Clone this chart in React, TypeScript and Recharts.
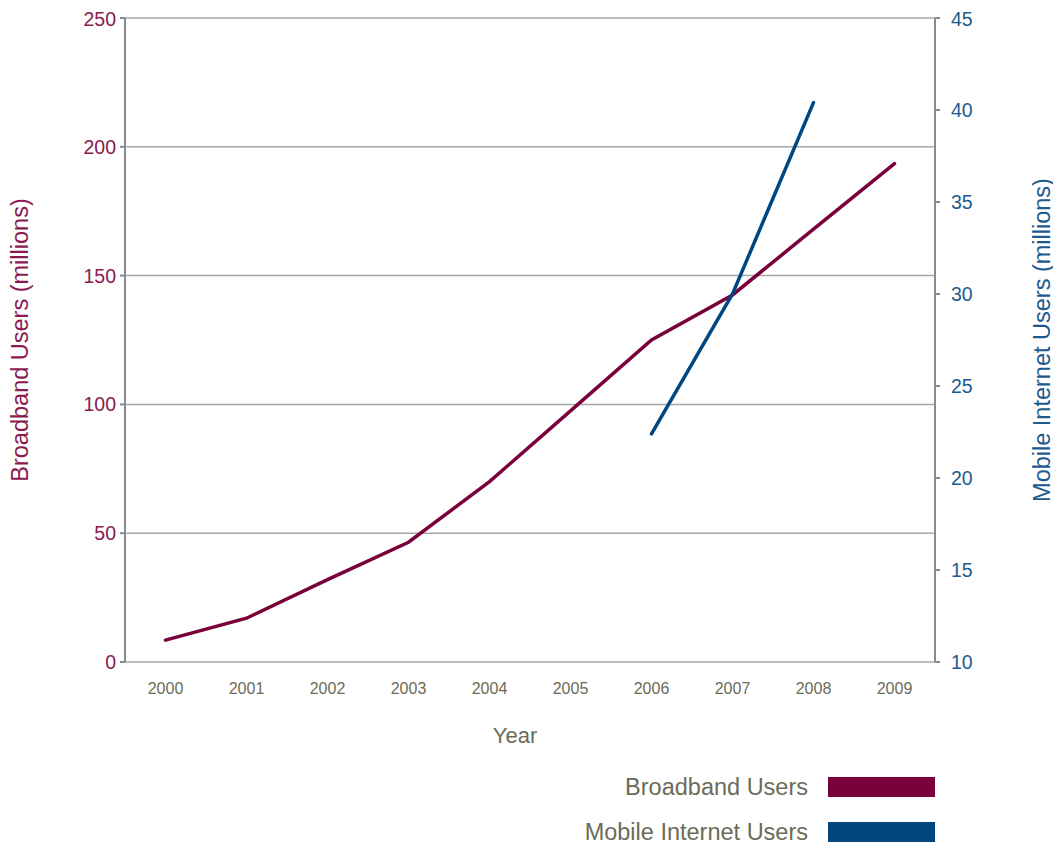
import { CartesianGrid, Legend, Line, LineChart, XAxis, YAxis } from "recharts";

const years = ["2000", "2001", "2002", "2003", "2004", "2005", "2006", "2007", "2008", "2009"];
const broadbandUsers = [8.5, 17, 32, 46.5, 70, 97.5, 125, 142.5, 168, 193.5];
const mobileUsers: (number | null)[] = [null, null, null, null, null, null, 22.4, 30, 40.4, null];
const leftTicks = [0, 50, 100, 150, 200, 250];
const rightTicks = [10, 15, 20, 25, 30, 35, 40, 45];

const MAROON = "#7a003c";
const BLUE = "#00467f";
const GRAY_TEXT = "#6b6b58";
const AXIS = "#8a8a8a";
const FONT = "'Liberation Sans', Arial, Helvetica, sans-serif";

const data = years.map((year, i) => ({
	i,
	year,
	broadband: broadbandUsers[i],
	mobile: mobileUsers[i],
}));

const labelTicks = years.map((_, i) => i);
const boundaryTicks = [...years.map((_, i) => i - 0.5), years.length - 0.5];

function LegendBox({ payload }: any) {
	const items = payload ?? [];
	return (
		<div style={{ height: 70, width: "100%", position: "relative", fontFamily: FONT }}>
			{items.map((item: any, idx: number) => (
				<div
					key={item.value}
					style={{
						position: "absolute",
						right: 126,
						top: idx === 0 ? 1 : 46,
						height: 20,
						display: "flex",
						alignItems: "center",
						gap: 20,
					}}
				>
					<span style={{ color: GRAY_TEXT, fontSize: 23.5, whiteSpace: "nowrap" }}>{item.value}</span>
					<span style={{ display: "inline-block", width: 107, height: 20, background: item.color }} />
				</div>
			))}
		</div>
	);
}

export default function App() {
	return (
		<div style={{ fontFamily: FONT }}>
			<LineChart
				width={1053}
				height={838}
				data={data}
				margin={{ top: 10, right: 0, left: 0, bottom: 0 }}
				accessibilityLayer={false}
				style={{ fontFamily: FONT }}
			>
				<CartesianGrid yAxisId="left" xAxisId="labels" vertical={false} stroke="#a8a8a8" strokeWidth={1.5} />
				<XAxis
					xAxisId="marks"
					dataKey="i"
					type="number"
					domain={[-0.5, years.length - 0.5]}
					ticks={boundaryTicks}
					tickFormatter={() => ""}
					height={0}
					tickSize={5}
					stroke={AXIS}
					strokeWidth={2}
					allowDataOverflow
				/>
				<XAxis
					xAxisId="labels"
					dataKey="i"
					type="number"
					domain={[-0.5, years.length - 0.5]}
					ticks={labelTicks}
					tickFormatter={(v: number) => years[v] ?? ""}
					tickLine={false}
					axisLine={false}
					height={114}
					tickSize={5}
					tickMargin={16}
					tick={{ fill: GRAY_TEXT, fontSize: 16 }}
					interval={0}
					allowDataOverflow
					label={{
						content: ({ viewBox }: any) => (
							<text
								x={viewBox.x + viewBox.width / 2 - 15}
								y={viewBox.y + 73}
								textAnchor="middle"
								dominantBaseline="central"
								fill={GRAY_TEXT}
								fontSize={22}
							>
								Year
							</text>
						),
					}}
				/>
				<YAxis
					yAxisId="left"
					orientation="left"
					domain={[0, 250]}
					ticks={leftTicks}
					width={117}
					tickSize={5}
					tickMargin={4}
					stroke={AXIS}
					strokeWidth={2}
					tick={{ fill: "#8a1a50", fontSize: 19.5 }}
					label={{
						content: ({ viewBox }: any) => {
							const x = viewBox.x + 12;
							const y = viewBox.y + viewBox.height / 2;
							return (
								<text
									x={x}
									y={y}
									transform={`rotate(-90, ${x}, ${y})`}
									textAnchor="middle"
									dominantBaseline="central"
									fill="#8a1a50"
									fontSize={23.5}
								>
									Broadband Users (millions)
								</text>
							);
						},
					}}
				/>
				<YAxis
					yAxisId="right"
					orientation="right"
					domain={[10, 45]}
					ticks={rightTicks}
					width={126}
					tickSize={5}
					tickMargin={11}
					stroke={AXIS}
					strokeWidth={2}
					tick={{ fill: "#1d5a8e", fontSize: 19.5 }}
					label={{
						content: ({ viewBox }: any) => {
							const x = viewBox.x + 107;
							const y = viewBox.y + viewBox.height / 2;
							return (
								<text
									x={x}
									y={y}
									transform={`rotate(-90, ${x}, ${y})`}
									textAnchor="middle"
									dominantBaseline="central"
									fill="#1d5a8e"
									fontSize={23.5}
								>
									Mobile Internet Users (millions)
								</text>
							);
						},
					}}
				/>
				<Legend layout="horizontal" verticalAlign="bottom" align="right" content={LegendBox} />
				<Line
					name="Broadband Users"
					xAxisId="labels"
					yAxisId="left"
					dataKey="broadband"
					stroke={MAROON}
					strokeWidth={3.5}
					strokeLinecap="round"
					dot={false}
					activeDot={false}
					isAnimationActive={false}
				/>
				<Line
					name="Mobile Internet Users"
					xAxisId="labels"
					yAxisId="right"
					dataKey="mobile"
					stroke={BLUE}
					strokeWidth={3.5}
					strokeLinecap="round"
					dot={false}
					activeDot={false}
					isAnimationActive={false}
				/>
			</LineChart>
		</div>
	);
}
